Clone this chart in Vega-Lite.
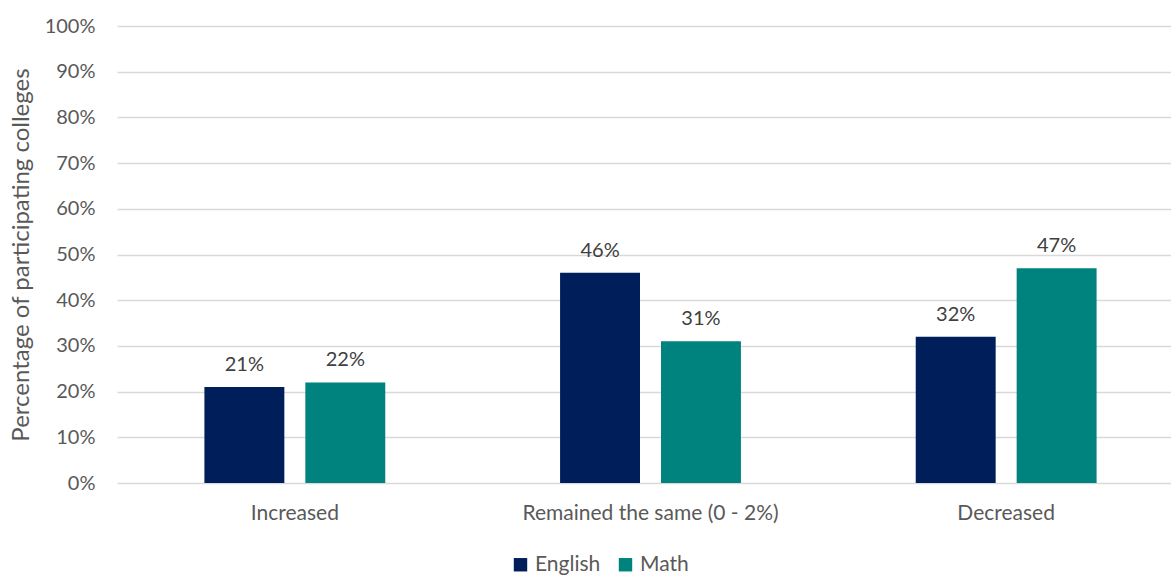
{
  "$schema": "https://vega.github.io/schema/vega-lite/v6.json",
  "width": 1067,
  "height": 457,
  "autosize": {"type": "none"},
  "padding": {"left": 117, "top": 26, "right": 0, "bottom": 92},
  "background": "white",
  "config": {
    "font": "Lato",
    "view": {"stroke": null},
    "axis": {"labelFont": "Lato", "titleFont": "Lato", "labelColor": "#595959", "titleColor": "#595959"}
  },
  "data": {
    "values": [
      {"category": "Increased", "subject": "English", "value": 0.21},
      {"category": "Increased", "subject": "Math", "value": 0.22},
      {"category": "Remained the same (0 - 2%)", "subject": "English", "value": 0.46},
      {"category": "Remained the same (0 - 2%)", "subject": "Math", "value": 0.31},
      {"category": "Decreased", "subject": "English", "value": 0.32},
      {"category": "Decreased", "subject": "Math", "value": 0.47}
    ]
  },
  "encoding": {
    "x": {
      "field": "category", "type": "nominal",
      "sort": ["Increased", "Remained the same (0 - 2%)", "Decreased"],
      "scale": {"paddingInner": 0, "paddingOuter": 0},
      "axis": {"title": null, "labelAngle": 0, "domain": false, "ticks": false, "labelPadding": 19, "labelFontSize": 21, "labelLimit": 0, "labelColor": "#595959"}
    },
    "xOffset": {
      "field": "subject", "type": "nominal",
      "scale": {"paddingInner": 0.208, "paddingOuter": 0.866}
    },
    "y": {
      "field": "value", "type": "quantitative",
      "scale": {"domain": [0, 1]},
      "axis": {
        "title": "Percentage of participating colleges",
        "titleFontSize": 24, "titleFontWeight": "normal", "titlePadding": 11,
        "format": ".0%", "values": [0,0.1,0.2,0.3,0.4,0.5,0.6,0.7,0.8,0.9,1],
        "labelOverlap": false,
        "labelFontSize": 20, "labelPadding": 22,
        "domain": false, "ticks": false,
        "grid": true, "gridColor": "#d9d9d9", "gridWidth": 1.5
      }
    }
  },
  "layer": [
    {
      "mark": {"type": "bar"},
      "encoding": {
        "color": {
          "field": "subject", "type": "nominal",
          "scale": {"domain": ["English", "Math"], "range": ["#001E5A", "#00827F"]},
          "legend": {
            "title": null, "orient": "none", "direction": "horizontal",
            "legendX": 393, "legendY": 528,
            "symbolType": "square", "symbolSize": 180, "symbolStrokeWidth": 0,
            "labelFontSize": 21, "labelColor": "#595959", "labelFont": "Lato",
            "columnPadding": 14, "symbolOffset": 0, "labelOffset": 4
          }
        }
      }
    },
    {
      "mark": {"type": "text", "dy": -22, "fontSize": 20, "color": "#404040", "font": "Lato"},
      "encoding": {
        "text": {"field": "value", "type": "quantitative", "format": ".0%"}
      }
    }
  ]
}
